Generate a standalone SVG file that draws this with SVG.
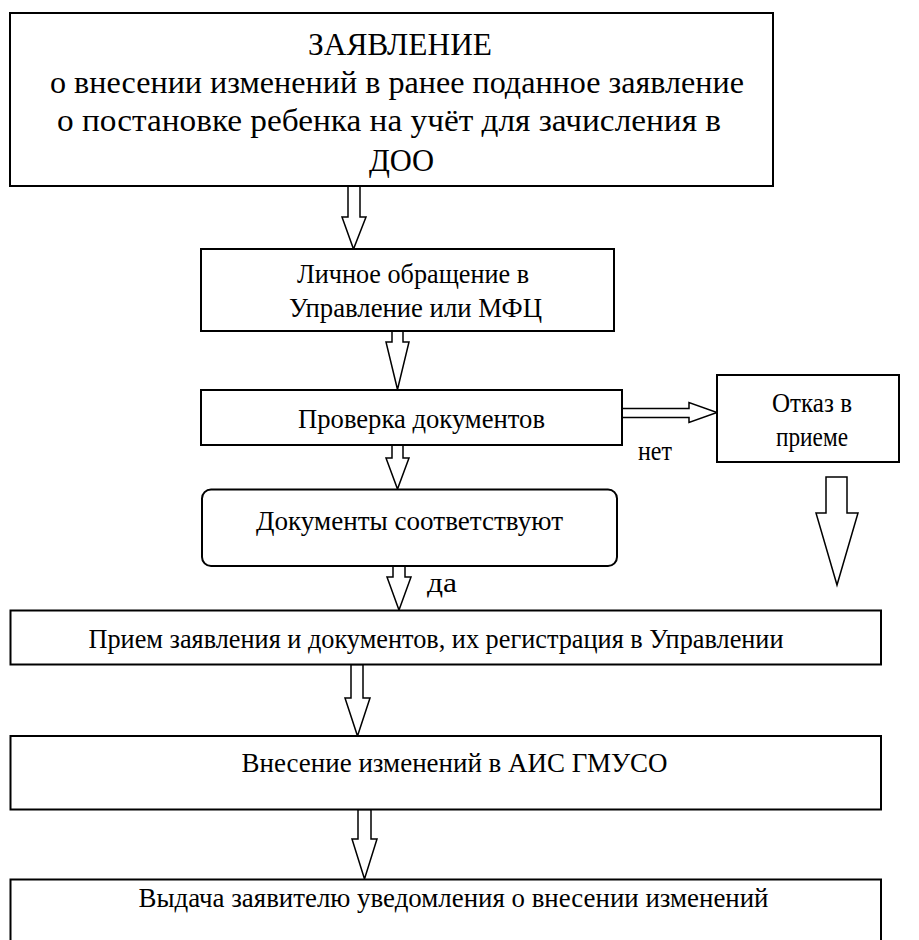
<svg xmlns="http://www.w3.org/2000/svg" width="919" height="940" viewBox="0 0 919 940">
<style>
.box{fill:#fff;stroke:#000;stroke-width:2}
.arr{fill:#fff;stroke:#000;stroke-width:1.5;stroke-linejoin:miter}
text{font-family:"Liberation Serif","Times New Roman",serif;fill:#000;font-size:27.5px}
.big{font-size:32.5px}
</style>
<rect width="919" height="940" fill="#fff"/>
<g id="connectors">
<polygon class="arr" points="348,186 360,186 360,217 366,217 353.5,249 342,217 348,217"/>
<polygon class="arr" points="392,331 403,331 403,342 409,342 397.5,389.5 386,342 392,342"/>
<polygon class="arr" points="392,445 403,445 403,458 409,458 397.5,489 386,458 392,458"/>
<polygon class="arr" points="393,566 405,566 405,577 411,577 399,610 387,577 393,577"/>
<polygon class="arr" points="351,664.5 363,664.5 363,698 370,698 357.5,736 345,698 351,698"/>
<polygon class="arr" points="358,809.5 371,809.5 371,839 377,839 364.5,879 352,839 358,839"/>
<polygon class="arr" points="622,408.5 689,408.5 689,402.5 717,412.5 689,422.5 689,417.5 622,417.5"/>
<polygon class="arr" points="826,477 847,477 847,513 858,513 837,585 816,513 826,513"/>
<text x="638" y="459.5" textLength="34" lengthAdjust="spacingAndGlyphs">нет</text>
<text x="427" y="592" textLength="30" lengthAdjust="spacingAndGlyphs">да</text>
</g>
<g id="n1">
<rect class="box" x="10" y="13" width="763" height="173"/>
<text class="big" x="308" y="54.5" textLength="184" lengthAdjust="spacingAndGlyphs">ЗАЯВЛЕНИЕ</text>
<text class="big" x="50" y="92.5" textLength="694" lengthAdjust="spacingAndGlyphs">о внесении изменений в ранее поданное заявление</text>
<text class="big" x="57" y="131" textLength="664" lengthAdjust="spacingAndGlyphs">о постановке ребенка на учёт для зачисления в</text>
<text class="big" x="369" y="170.5" textLength="65" lengthAdjust="spacingAndGlyphs">ДОО</text>
</g>
<g id="n2">
<rect class="box" x="201" y="249" width="413" height="82"/>
<text x="297" y="283" textLength="232" lengthAdjust="spacingAndGlyphs">Личное обращение в</text>
<text x="289" y="316.5" textLength="253" lengthAdjust="spacingAndGlyphs">Управление или МФЦ</text>
</g>
<g id="n3">
<rect class="box" x="201" y="390" width="421" height="55"/>
<text x="298" y="427.5" textLength="247" lengthAdjust="spacingAndGlyphs">Проверка документов</text>
</g>
<g id="n4">
<rect class="box" x="717" y="375" width="182" height="87"/>
<text x="772" y="411.5" textLength="80" lengthAdjust="spacingAndGlyphs">Отказ в</text>
<text x="776" y="445.5" textLength="72" lengthAdjust="spacingAndGlyphs">приеме</text>
</g>
<g id="n5">
<rect class="box" x="202" y="489.5" width="415" height="76.5" rx="9"/>
<text x="256" y="529.5" textLength="307" lengthAdjust="spacingAndGlyphs">Документы соответствуют</text>
</g>
<g id="n6">
<rect class="box" x="10.5" y="610.5" width="870.5" height="54"/>
<text x="88.5" y="647.5" textLength="695" lengthAdjust="spacingAndGlyphs">Прием заявления и документов, их регистрация в Управлении</text>
</g>
<g id="n7">
<rect class="box" x="10.5" y="736" width="870.5" height="73.5"/>
<text x="241.5" y="771.5" textLength="426" lengthAdjust="spacingAndGlyphs">Внесение изменений в АИС ГМУСО</text>
</g>
<g id="n8">
<rect class="box" x="10.5" y="879.5" width="870.5" height="100"/>
<text x="138.5" y="907" textLength="630" lengthAdjust="spacingAndGlyphs">Выдача заявителю уведомления о внесении изменений</text>
</g>
</svg>
